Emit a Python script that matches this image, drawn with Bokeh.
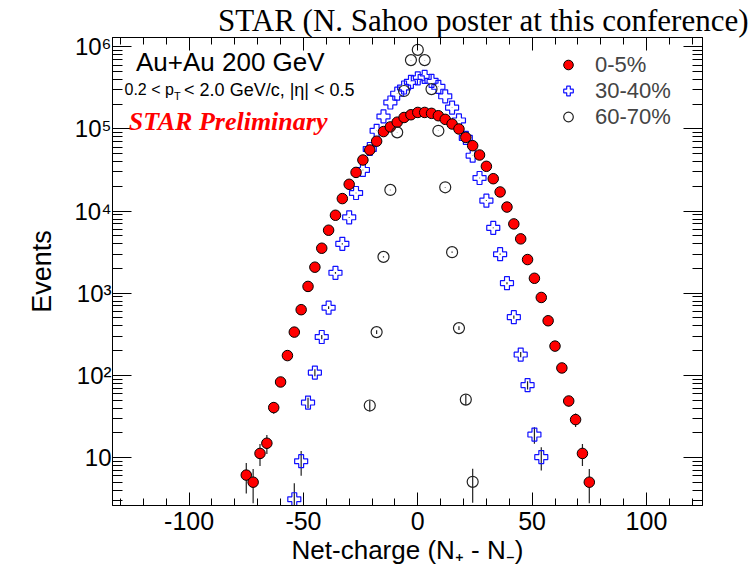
import numpy as np
from bokeh.plotting import figure
from bokeh.models import (Range1d, LogAxis, LinearAxis, FixedTicker, Label,
                          Legend, LegendItem)
from bokeh.embed import file_html
from bokeh.resources import INLINE

# ---------------- data ----------------
net_charge_0_5 = [-75, -72, -69, -66, -63, -60, -57, -54, -51, -48, -45, -42, -39,
                  -36, -33, -30, -27, -24, -21, -18, -15, -12, -9, -6, -3, 0,
                  3, 6, 9, 12, 15, 18, 21, 24, 27, 30, 33, 36, 39, 42, 45, 48,
                  51, 54, 57, 60, 63, 66, 69, 72, 75]
events_0_5 = [6.1, 5.0, 11.2, 14.9, 40.5, 83, 174, 336, 630, 1210, 2075, 3530, 5850,
              8900, 14200, 21200, 29600, 41900, 55500, 71000, 93000, 106000, 121000,
              138000, 149000, 159000,
              159000, 155000, 145000, 131000, 115000, 100000, 79000, 62600, 48200,
              35100, 24800, 17100, 11200, 6980, 4590, 2570,
              1520, 888, 462, 227, 123, 48.7, 28.9, 11.2, 5.0]

net_charge_30_40 = [-54, -51, -48, -45, -42, -39, -36, -33, -30, -27, -24, -21, -18,
                    -15, -12, -9, -6, -3, 0, 3, 6, 9, 12, 15, 18, 21, 24, 27, 30,
                    33, 36, 39, 42, 45, 48, 51, 54]
events_30_40 = [3.1, 9.0, 46.6, 108, 293, 666, 1773, 3990, 8400, 16600, 31700, 57000,
                95000, 142000, 210000, 269000, 320000, 375000, 414000, 430000,
                386000, 326000, 250000, 182000, 127000, 78000, 47300, 25300, 13400,
                6250, 2985, 1326, 511, 179, 76, 19, 10.1]

net_charge_60_70 = [-21, -18, -15, -12, -9, -6, -3, 0, 3, 6, 9, 12, 15, 18, 21, 24]
events_60_70 = [42.9, 336, 2770, 18100, 91000, 290000, 690000, 920000, 690000,
                306000, 95000, 19500, 3160, 376, 50.7, 5.05]

x_major_ticks = [-100, -50, 0, 50, 100]
x_tick_labels = ["-100", "-50", "0", "50", "100"]
x_minor_ticks = [-130, -120, -110, -100, -90, -80, -70, -60, -50, -40, -30, -20, -10,
                 0, 10, 20, 30, 40, 50, 60, 70, 80, 90, 100, 110, 120]
y_major_ticks = [10, 100, 1000, 10000, 100000, 1000000]
y_tick_labels = ["10", "10²", "10³", "10⁴", "10⁵", "10⁶"]
y_minor_ticks = [m * 10 ** e for e in range(0, 7) for m in range(2, 10)]

legend_labels = ["0-5%", "30-40%", "60-70%"]

SANS = "Liberation Sans"
SERIF = "Liberation Serif"

# ---------------- figure ----------------
p = figure(width=750, height=571, output_backend="svg", toolbar_location=None,
           x_range=Range1d(-133.5, 124.5), y_range=Range1d(2.6, 1.3e6),
           y_axis_type="log",
           min_border_left=112, min_border_right=48,
           min_border_top=37, min_border_bottom=66)
p.grid.visible = False
p.outline_line_color = "black"
p.outline_line_width = 1
p.background_fill_color = "white"
p.border_fill_color = "white"

p.title.text = "STAR (N. Sahoo poster at this conference)"
p.title.align = "right"
p.title.text_font = SERIF
p.title.text_font_size = "31px"
p.title.text_font_style = "normal"
p.title.text_color = "black"
p.title.standoff = 0
p.title.offset = -46

xt = FixedTicker(ticks=x_major_ticks, minor_ticks=x_minor_ticks)
yt = FixedTicker(ticks=y_major_ticks, minor_ticks=y_minor_ticks)


def style_axis(ax, major_len, minor_len):
    ax.major_tick_in = major_len
    ax.major_tick_out = 0
    ax.minor_tick_in = minor_len
    ax.minor_tick_out = 0
    ax.axis_line_color = "black"
    ax.major_tick_line_color = "black"
    ax.minor_tick_line_color = "black"
    ax.major_label_text_font = SANS
    ax.major_label_text_color = "black"


xaxis = p.xaxis[0]
xaxis.ticker = xt
style_axis(xaxis, 13, 7)
xaxis.major_label_text_font_size = "25px"
xaxis.major_label_overrides = {float(t): s for t, s in zip(x_major_ticks, x_tick_labels)}
xaxis.major_label_standoff = 6
xaxis.axis_label = "Net-charge (N₊ - N₋)"
xaxis.axis_label_text_font = SANS
xaxis.axis_label_text_font_size = "26px"
xaxis.axis_label_text_font_style = "normal"
xaxis.axis_label_text_color = "black"
xaxis.axis_label_standoff = 2

yaxis = p.yaxis[0]
yaxis.ticker = yt
style_axis(yaxis, 19, 10)
yaxis.major_label_text_font_size = "24px"
yaxis.major_label_overrides = {float(t): s for t, s in zip(y_major_ticks, y_tick_labels)}
yaxis.major_label_standoff = 1
yaxis.axis_label = "Events"
yaxis.axis_label_text_font = SANS
yaxis.axis_label_text_font_size = "27px"
yaxis.axis_label_text_font_style = "normal"
yaxis.axis_label_text_color = "black"
yaxis.axis_label_standoff = 14

top_axis = LinearAxis(ticker=xt, major_label_text_font_size="2px",
                      major_label_overrides={float(t): "" for t in x_major_ticks},
                      major_label_standoff=0)
style_axis(top_axis, 13, 7)
p.add_layout(top_axis, "above")

right_axis = LogAxis(ticker=yt, major_label_text_font_size="2px",
                     major_label_overrides={float(t): "" for t in y_major_ticks},
                     major_label_standoff=0)
style_axis(right_axis, 19, 10)
p.add_layout(right_axis, "right")

# ---------------- error bars (statistical, sqrt(N)) ----------------
for xs, ys in [(net_charge_0_5, events_0_5), (net_charge_30_40, events_30_40),
               (net_charge_60_70, events_60_70)]:
    v = np.array(ys, dtype=float)
    e = np.sqrt(v)
    p.segment(x0=xs, y0=v - e, x1=xs, y1=v + e, line_color="#222222", line_width=1.2)

# ---------------- markers ----------------
r_blue = p.scatter(net_charge_30_40, events_30_40, marker="plus", size=13,
                   fill_color=None, line_color="#1010ff", line_width=1.2)
r_red = p.scatter(net_charge_0_5, events_0_5, marker="circle", size=10.5,
                  fill_color="red", line_color="black", line_width=1)
r_open = p.scatter(net_charge_60_70, events_60_70, marker="circle", size=11,
                   fill_color=None, line_color="#222222", line_width=1.2)

legend = Legend(items=[LegendItem(label=legend_labels[0], renderers=[r_red]),
                       LegendItem(label=legend_labels[1], renderers=[r_blue]),
                       LegendItem(label=legend_labels[2], renderers=[r_open])],
                location=(444.0, 375.5), orientation="vertical",
                glyph_width=24, glyph_height=25, label_height=25,
                label_standoff=15, spacing=0, padding=0, margin=0,
                label_text_font=SANS, label_text_font_size="22px",
                border_line_color=None, background_fill_alpha=0)
p.add_layout(legend)

# ---------------- texts inside the frame ----------------
def add_label(text, fx, fy, size, font=SANS, style="normal", color="black",
              align="left", baseline="alphabetic"):
    p.add_layout(Label(x=fx, y=fy, x_units="screen", y_units="screen", text=text,
                       text_font=font, text_font_size=size, text_font_style=style,
                       text_color=color, text_align=align, text_baseline=baseline))


add_label("Au+Au 200 GeV", 23.5, 443.5, "26px")
add_label("0.2 < p", 12.0, 416, "16px")
add_label("T", 61.5, 409.5, "11px")
add_label("< 2.0 GeV/c, |η| < 0.5", 71.6, 416, "18px")
add_label("STAR Preliminary", 16.3, 384.5, "26px", font=SERIF, style="bold italic",
          color="red")

open("out.html", "w").write(file_html(p, INLINE))
